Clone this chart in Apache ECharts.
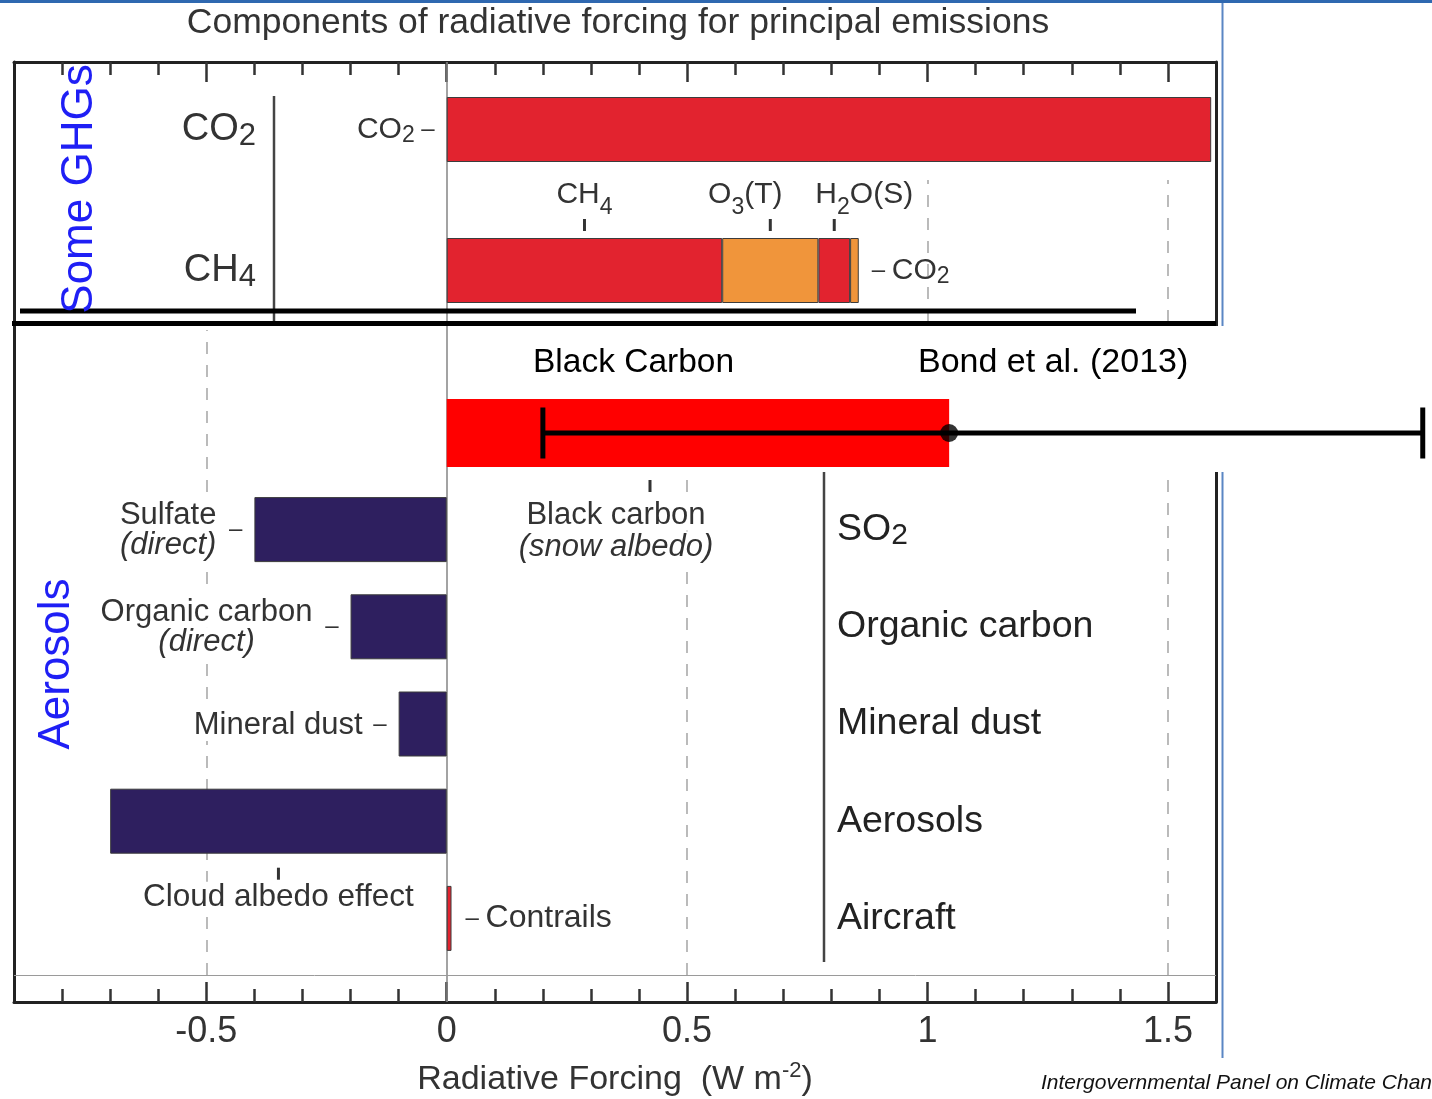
<!DOCTYPE html>
<html><head><meta charset="utf-8">
<script src="https://cdn.jsdelivr.net/npm/echarts@6/dist/echarts.min.js"></script>
<style>html,body{margin:0;padding:0;background:#fff}#c{width:1432px;height:1099px}</style>
</head><body><div id="c"></div>
<script>
// ---------------- data ----------------
const xMin = -0.9, xMax = 1.6;
const majorTicks = [-0.5, 0, 0.5, 1, 1.5];
const tickLabels = ['-0.5', '0', '0.5', '1', '1.5'];
const minorTicks = [-0.8, -0.7, -0.6, -0.4, -0.3, -0.2, -0.1, 0.1, 0.2, 0.3, 0.4, 0.6, 0.7, 0.8, 0.9, 1.1, 1.2, 1.3, 1.4];

// Some GHGs panel: rows = emitted compound, series = forcing component (stack order)
const ghgRows = ['CO2', 'CH4'];
const ghgCH4 = ['-', 0.573];
const ghgO3T = ['-', 0.200];
const ghgH2OS = ['-', 0.066];
const ghgCO2 = [1.59, 0.018];

// Black carbon, Bond et al. (2013)
const bcRows = ['Black Carbon'];
const bcValue = [1.045];
const bcLow = [0.20];
const bcHigh = [2.03];

// Aerosols panel
const aerosolRows = ['SO2', 'Organic carbon', 'Mineral dust', 'Aerosols', 'Aircraft'];
const aerosolComponents = ['Sulfate\n(direct)', 'Organic carbon\n(direct)', 'Mineral dust', 'Cloud albedo effect', 'Contrails'];
const aerosolValues = [-0.40, -0.20, -0.10, -0.70, 0.01];

const dashedTop = [1.0, 1.5];
const dashedBottom = [-0.5, 0.5, 1.5];

// ---------------- styling ----------------
const FONT = "'Liberation Sans', Arial, Helvetica, sans-serif";
const RED = '#e2232f', ORANGE = '#f0953b', NAVY = '#2e1f5f', BC_RED = '#ff0000', EDGE = '#3c3c3c', TXT = '#333';
const L = 14, W = 1202, PX = W / (xMax - xMin), bcXMax = 2.045;

function chem(s, m, sub) {
  return s.replace(/(\d+)|(\D+)/g, (all, d, t) => d ? `{${sub}|${d}}` : `{${m}|${t}}`);
}

const rich = {
  m: {fontSize: 30, lineHeight: 48, color: TXT, fontFamily: FONT},
  s: {fontSize: 23, lineHeight: 36, verticalAlign: 'bottom', color: TXT, fontFamily: FONT},
  t: {width: 3, height: 12, backgroundColor: '#333'},
  sp: {width: 50, height: 10},
  sp2: {width: 60, height: 10},
  mm: {fontSize: 30, lineHeight: 36, color: TXT, fontFamily: FONT},
  ss: {fontSize: 23, lineHeight: 22, verticalAlign: 'bottom', color: TXT, fontFamily: FONT},
  dd: {fontSize: 24, lineHeight: 36, color: TXT, fontFamily: FONT},
  c: {fontSize: 31, lineHeight: 32, color: TXT, fontFamily: FONT, align: 'center', backgroundColor: '#fff', padding: [3, 0, 0, 0]},
  ci: {fontSize: 31, lineHeight: 32, color: TXT, fontFamily: FONT, fontStyle: 'italic', align: 'center', backgroundColor: '#fff'},
  cr: {fontSize: 32, lineHeight: 36, color: TXT, fontFamily: FONT},
  cb: {fontSize: 31.5, lineHeight: 36, color: TXT, fontFamily: FONT, backgroundColor: '#fff'}
};

const hiddenX = (gi, max) => ({type: 'value', gridIndex: gi, min: xMin, max: max || xMax, show: false});
const hiddenY = (gi) => ({type: 'value', gridIndex: gi, min: 0, max: 1, show: false});

// GHG stacked series
const ghgDefs = [
  {name: 'CH4', data: ghgCH4, colors: [RED, RED],
   labels: [null, {position: 'top', distance: 7, formatter: chem('CH4', 'm', 's') + '\n{t|}'}]},
  {name: 'O3(T)', data: ghgO3T, colors: [ORANGE, ORANGE],
   labels: [null, {position: 'top', distance: 7, formatter: chem('O3(T)', 'm', 's') + '{sp|}\n{t|}'}]},
  {name: 'H2O(S)', data: ghgH2OS, colors: [RED, RED],
   labels: [null, {position: 'top', distance: 7, formatter: '{sp2|}' + chem('H2O(S)', 'm', 's') + '\n{t|}'}]},
  {name: 'CO2', data: ghgCO2, colors: [RED, ORANGE],
   labels: [{position: 'left', distance: 12, formatter: chem('CO2', 'mm', 'ss') + '{dd| –}'},
            {position: 'right', distance: 13, formatter: '{dd|– }' + chem('CO2', 'mm', 'ss')}]}
];
const ghgSeries = ghgDefs.map(d => ({
  type: 'bar', name: d.name, stack: 'ghg', xAxisIndex: 4, yAxisIndex: 2, barWidth: 65, z: 5,
  data: d.data.map((v, i) => v === '-' ? '-' : {
    value: v,
    itemStyle: {color: d.colors[i], borderColor: EDGE, borderWidth: 1},
    label: d.labels[i] ? Object.assign({show: true, rich}, d.labels[i]) : {show: false}
  })
}));

// aerosol labels
function aerosolLabel(i) {
  const name = aerosolComponents[i];
  if (i === 3) return {show: true, position: 'bottom', distance: 14, formatter: '{t|}\n{cb|' + name + '}', rich};
  if (aerosolValues[i] > 0) return {show: true, position: 'right', distance: 14, formatter: '{dd|– }{cr|' + name + '}', rich};
  const parts = name.split('\n');
  return {show: true, position: 'left', distance: i === 2 ? 36 : 38,
    formatter: '{c|' + parts[0] + '}' + (parts[1] ? '\n{ci|' + parts[1] + '}' : ''), rich};
}

const frameLine = {show: true, onZero: false, lineStyle: {color: '#222', width: 3}};
const G = (top, height, width) => ({left: L, top, width: width || W, height, outerBoundsMode: 'none', containLabel: false});

const option = {
  animation: false,
  backgroundColor: '#fff',
  textStyle: {fontFamily: FONT},
  grid: [
    G(62, 940),                       // 0 frame major
    G(62, 940),                       // 1 frame minor
    G(59, 282),                       // 2 GHG bars
    G(180, 142),                      // 3 dashed top
    G(399, 68, PX * (bcXMax - xMin)), // 4 BC
    G(330, 645),                      // 5 dashed bottom
    G(481, 486)                       // 6 aerosols
  ],
  xAxis: [
    {type: 'value', gridIndex: 0, min: xMin, max: xMax, position: 'bottom',
     axisLine: frameLine,
     axisTick: {show: true, inside: true, length: 20, customValues: majorTicks, lineStyle: {color: '#333', width: 2.5}},
     axisLabel: {show: true, customValues: majorTicks, margin: 12, fontSize: 36, color: TXT, fontFamily: FONT,
       formatter: v => { const k = majorTicks.findIndex(t => Math.abs(t - v) < 1e-9); return k >= 0 ? tickLabels[k] : ''; }},
     splitLine: {show: false},
     name: '{n|Radiative Forcing  (W m}{p|-2}{n|)}', nameLocation: 'middle', nameGap: 58,
     nameTextStyle: {rich: {
       n: {fontSize: 34, lineHeight: 40, color: TXT, fontFamily: FONT},
       p: {fontSize: 22, lineHeight: 24, verticalAlign: 'top', color: TXT, fontFamily: FONT}}}},
    {type: 'value', gridIndex: 0, min: xMin, max: xMax, position: 'top',
     axisLine: frameLine,
     axisTick: {show: true, inside: true, length: 20, customValues: majorTicks, lineStyle: {color: '#333', width: 2.5}},
     axisLabel: {show: false}, splitLine: {show: false}},
    {type: 'value', gridIndex: 1, min: xMin, max: xMax, position: 'bottom',
     axisLine: {show: false, onZero: false},
     axisTick: {show: true, inside: true, length: 13, customValues: minorTicks, lineStyle: {color: '#333', width: 2.5}},
     axisLabel: {show: false}, splitLine: {show: false}},
    {type: 'value', gridIndex: 1, min: xMin, max: xMax, position: 'top',
     axisLine: {show: false, onZero: false},
     axisTick: {show: true, inside: true, length: 13, customValues: minorTicks, lineStyle: {color: '#333', width: 2.5}},
     axisLabel: {show: false}, splitLine: {show: false}},
    hiddenX(2), hiddenX(3), hiddenX(4, bcXMax), hiddenX(5), hiddenX(6)
  ],
  yAxis: [
    {type: 'value', gridIndex: 0, min: 0, max: 1, position: 'left',
     axisLine: frameLine,
     axisTick: {show: false}, axisLabel: {show: false}, splitLine: {show: false}},
    {type: 'value', gridIndex: 1, min: 0, max: 1, position: 'right',
     axisLine: frameLine,
     axisTick: {show: false}, axisLabel: {show: false}, splitLine: {show: false}},
    {type: 'category', gridIndex: 2, data: ghgRows, inverse: true, position: 'left', offset: -(274 - L),
     axisLine: {show: false, onZero: false}, axisTick: {show: false}, splitLine: {show: false},
     axisLabel: {interval: 0, margin: 18, formatter: v => chem(v, 'b', 'bs'),
       rich: {b: {fontSize: 38, lineHeight: 44, color: TXT, fontFamily: FONT},
              bs: {fontSize: 31, lineHeight: 30, verticalAlign: 'bottom', color: TXT, fontFamily: FONT}}}},
    hiddenY(3),
    {type: 'category', gridIndex: 4, data: bcRows, show: false},
    hiddenY(5),
    {type: 'category', gridIndex: 6, data: aerosolRows, inverse: true, position: 'left', offset: -(824 - L),
     axisLine: {show: false, onZero: false}, axisTick: {show: false}, splitLine: {show: false},
     axisLabel: {inside: true, interval: 0, margin: 13, formatter: v => chem(v, 'r', 'rs'),
       rich: {r: {fontSize: 37.5, lineHeight: 42, color: '#222', fontFamily: FONT},
              rs: {fontSize: 30, lineHeight: 28, verticalAlign: 'bottom', color: '#222', fontFamily: FONT}}}}
  ],
  series: [
    {type: 'line', xAxisIndex: 0, yAxisIndex: 0, data: [], z: 1,
     markLine: {silent: true, symbol: 'none', label: {show: false},
       lineStyle: {color: '#858585', width: 1.5, type: 'solid'}, data: [{xAxis: 0}]}},
    {type: 'line', xAxisIndex: 5, yAxisIndex: 3, data: [], z: 1,
     markLine: {silent: true, symbol: 'none', label: {show: false},
       lineStyle: {color: '#aaa', width: 1.6, type: [12, 11]}, data: dashedTop.map(v => ({xAxis: v}))}},
    {type: 'line', xAxisIndex: 7, yAxisIndex: 5, data: [], z: 1,
     markLine: {silent: true, symbol: 'none', label: {show: false},
       lineStyle: {color: '#aaa', width: 1.6, type: [12, 11]}, data: dashedBottom.map(v => ({xAxis: v}))}},
    ...ghgSeries,
    {type: 'bar', name: 'Black Carbon', xAxisIndex: 6, yAxisIndex: 4, barWidth: 68, z: 60,
     itemStyle: {color: BC_RED}, data: bcValue},
    {type: 'custom', name: 'Bond range', xAxisIndex: 6, yAxisIndex: 4, z: 62,
     data: bcLow.map((lo, i) => [lo, bcHigh[i], i]),
     encode: {x: [0, 1], y: 2},
     renderItem: (params, api) => {
       const a = api.coord([api.value(0), 0]);
       const b = api.coord([api.value(1), 0]);
       const h = 25.5;
       const st = {stroke: '#000', lineWidth: 5};
       return {type: 'group', children: [
         {type: 'line', shape: {x1: a[0], y1: a[1], x2: b[0], y2: b[1]}, style: st},
         {type: 'line', shape: {x1: a[0], y1: a[1] - h, x2: a[0], y2: a[1] + h}, style: st},
         {type: 'line', shape: {x1: b[0], y1: b[1] - h, x2: b[0], y2: b[1] + h}, style: st}
       ]};
     }},
    {type: 'scatter', name: 'Bond best', xAxisIndex: 6, yAxisIndex: 4, z: 63, symbol: 'circle', symbolSize: 18,
     itemStyle: {color: '#000'}, data: bcValue.map((v, i) => [v, i])},
    {type: 'bar', name: 'Aerosol RF', xAxisIndex: 8, yAxisIndex: 6, barWidth: 65, barGap: '-100%', z: 5,
     data: aerosolValues.map((v, i) => ({value: v,
       itemStyle: {color: v > 0 ? RED : NAVY, borderColor: EDGE, borderWidth: 1},
       label: aerosolLabel(i)}))},
    {type: 'bar', name: 'Aerosol ticks', xAxisIndex: 8, yAxisIndex: 6, barWidth: 65, barGap: '-100%', z: 6,
     itemStyle: {color: 'rgba(0,0,0,0)'},
     data: aerosolValues.map((v, i) => ({value: v,
       label: (v < 0 && i !== 3) ? {show: true, position: 'left', distance: 12, formatter: '{dd|–}', rich} : {show: false}}))}
  ],
  graphic: [
    {type: 'rect', z: 40, shape: {x: 0, y: 0, width: 1432, height: 3}, style: {fill: '#2f68b0'}},
    {type: 'line', z: 40, shape: {x1: 1222.5, y1: 3, x2: 1222.5, y2: 1058}, style: {stroke: '#5a86c4', lineWidth: 2}},
    {type: 'text', z: 100, x: 618, y: 23, style: {text: 'Components of radiative forcing for principal emissions',
      fontSize: 35.5, fontFamily: FONT, fill: TXT, align: 'center', verticalAlign: 'middle', textAlign: 'center', textVerticalAlign: 'middle'}},
    {type: 'text', z: 100, x: 80, y: 189, rotation: Math.PI / 2, style: {text: 'Some GHGs',
      fontSize: 44, fontFamily: FONT, fill: '#1f1ff5', align: 'center', verticalAlign: 'middle', textAlign: 'center', textVerticalAlign: 'middle'}},
    {type: 'text', z: 100, x: 57, y: 664, rotation: Math.PI / 2, style: {text: 'Aerosols',
      fontSize: 44, fontFamily: FONT, fill: '#1f1ff5', align: 'center', verticalAlign: 'middle', textAlign: 'center', textVerticalAlign: 'middle'}},
    {type: 'line', z: 30, shape: {x1: 274, y1: 96, x2: 274, y2: 322}, style: {stroke: '#444', lineWidth: 2.5}},
    {type: 'line', z: 30, shape: {x1: 824, y1: 472, x2: 824, y2: 962}, style: {stroke: '#444', lineWidth: 2.5}},
    {type: 'line', z: 30, shape: {x1: L, y1: 975.5, x2: L + W, y2: 975.5}, style: {stroke: '#9a9a9a', lineWidth: 1}},
    {type: 'rect', z: 50, shape: {x: 449, y: 326, width: 983, height: 146}, style: {fill: '#fff'}},
    {type: 'line', z: 70, shape: {x1: 20, y1: 311, x2: 1136, y2: 311}, style: {stroke: '#000', lineWidth: 5}},
    {type: 'line', z: 70, shape: {x1: 12, y1: 323.5, x2: 1216, y2: 323.5}, style: {stroke: '#000', lineWidth: 5}},
    {type: 'text', z: 100, x: 533, y: 363, style: {text: 'Black Carbon', fontSize: 33.5, fontFamily: FONT, fill: '#000',
      align: 'left', verticalAlign: 'middle', textAlign: 'left', textVerticalAlign: 'middle'}},
    {type: 'text', z: 100, x: 918, y: 363, style: {text: 'Bond et al. (2013)', fontSize: 34, fontFamily: FONT, fill: '#000',
      align: 'left', verticalAlign: 'middle', textAlign: 'left', textVerticalAlign: 'middle'}},
    {type: 'rect', z: 100, shape: {x: 648.5, y: 480, width: 3, height: 12}, style: {fill: '#333'}},
    {type: 'text', z: 100, x: 616, y: 531, style: {
      text: '{a|Black carbon}\n{b|(snow albedo)}', align: 'center', verticalAlign: 'middle', textAlign: 'center', textVerticalAlign: 'middle',
      rich: {
        a: {fontSize: 31, lineHeight: 32, fontFamily: FONT, fill: TXT, color: TXT, backgroundColor: '#fff'},
        b: {fontSize: 31, lineHeight: 32, fontFamily: FONT, fontStyle: 'italic', fill: TXT, color: TXT, backgroundColor: '#fff'}}}},
    {type: 'text', z: 100, x: 1041, y: 1083, style: {text: 'Intergovernmental Panel on Climate Change',
      fontSize: 21, fontStyle: 'italic', fontFamily: FONT, fill: '#111', align: 'left', verticalAlign: 'middle', textAlign: 'left', textVerticalAlign: 'middle'}}
  ]
};

const chart = echarts.init(document.getElementById('c'));
chart.setOption(option);
</script>
</body></html>
